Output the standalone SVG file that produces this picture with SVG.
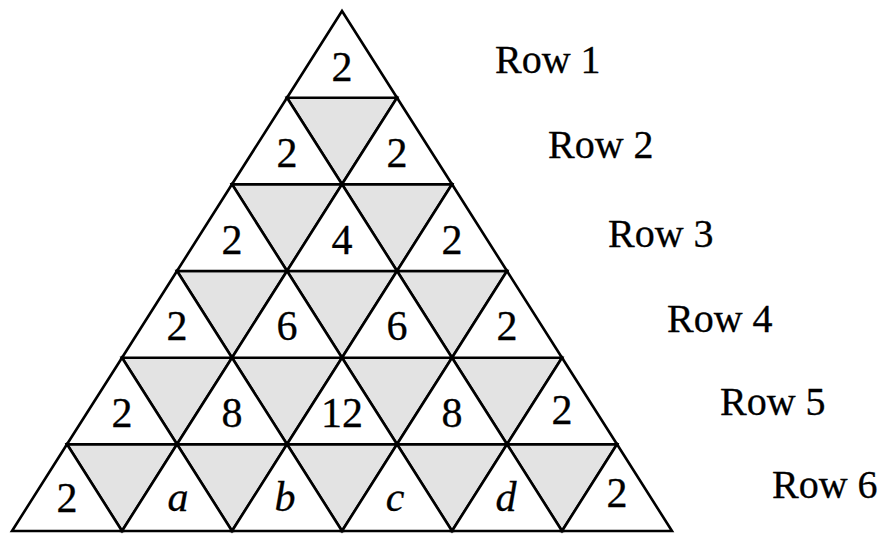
<svg xmlns="http://www.w3.org/2000/svg" width="891" height="534" viewBox="0 0 891 534">
<style>
.up{fill:#fff;stroke:#000;stroke-width:2.6;stroke-linejoin:miter}
.dn{fill:#e3e3e3;stroke:#000;stroke-width:2.6;stroke-linejoin:miter}
.n{font-size:42px;text-anchor:middle;fill:#000;stroke:#000;stroke-width:0.3}
.i{font-style:italic}
.lbl{font-size:40px;fill:#000;stroke:#000;stroke-width:0.3}
</style>
<rect width="891" height="534" fill="#fff"/>
<g id="shaded">
<polygon class="dn" points="287,97.7 397,97.7 342,184.3"/>
<polygon class="dn" points="232,184.3 342,184.3 287,271"/>
<polygon class="dn" points="342,184.3 452,184.3 397,271"/>
<polygon class="dn" points="177,271 287,271 232,357.7"/>
<polygon class="dn" points="287,271 397,271 342,357.7"/>
<polygon class="dn" points="397,271 507,271 452,357.7"/>
<polygon class="dn" points="122,357.7 232,357.7 177,444.3"/>
<polygon class="dn" points="232,357.7 342,357.7 287,444.3"/>
<polygon class="dn" points="342,357.7 452,357.7 397,444.3"/>
<polygon class="dn" points="452,357.7 562,357.7 507,444.3"/>
<polygon class="dn" points="67,444.3 177,444.3 122,531"/>
<polygon class="dn" points="177,444.3 287,444.3 232,531"/>
<polygon class="dn" points="287,444.3 397,444.3 342,531"/>
<polygon class="dn" points="397,444.3 507,444.3 452,531"/>
<polygon class="dn" points="507,444.3 617,444.3 562,531"/>
</g>
<g font-family="Liberation Serif, DejaVu Serif, serif">
<g id="r1c1"><polygon class="up" points="342,11 287,97.7 397,97.7"/><text class="n" x="342" y="81">2</text></g>
<g id="r2c1"><polygon class="up" points="287,97.7 232,184.3 342,184.3"/><text class="n" x="287" y="167">2</text></g>
<g id="r2c2"><polygon class="up" points="397,97.7 342,184.3 452,184.3"/><text class="n" x="397" y="167">2</text></g>
<g id="r3c1"><polygon class="up" points="232,184.3 177,271 287,271"/><text class="n" x="232" y="254">2</text></g>
<g id="r3c2"><polygon class="up" points="342,184.3 287,271 397,271"/><text class="n" x="342" y="254">4</text></g>
<g id="r3c3"><polygon class="up" points="452,184.3 397,271 507,271"/><text class="n" x="452" y="254">2</text></g>
<g id="r4c1"><polygon class="up" points="177,271 122,357.7 232,357.7"/><text class="n" x="177" y="340">2</text></g>
<g id="r4c2"><polygon class="up" points="287,271 232,357.7 342,357.7"/><text class="n" x="287" y="340">6</text></g>
<g id="r4c3"><polygon class="up" points="397,271 342,357.7 452,357.7"/><text class="n" x="397" y="340">6</text></g>
<g id="r4c4"><polygon class="up" points="507,271 452,357.7 562,357.7"/><text class="n" x="507" y="340">2</text></g>
<g id="r5c1"><polygon class="up" points="122,357.7 67,444.3 177,444.3"/><text class="n" x="122" y="427">2</text></g>
<g id="r5c2"><polygon class="up" points="232,357.7 177,444.3 287,444.3"/><text class="n" x="232" y="427">8</text></g>
<g id="r5c3"><polygon class="up" points="342,357.7 287,444.3 397,444.3"/><text class="n" x="342" y="427">12</text></g>
<g id="r5c4"><polygon class="up" points="452,357.7 397,444.3 507,444.3"/><text class="n" x="452" y="427">8</text></g>
<g id="r5c5"><polygon class="up" points="562,357.7 507,444.3 617,444.3"/><text class="n" x="562" y="424">2</text></g>
<g id="r6c1"><polygon class="up" points="67,444.3 12,531 122,531"/><text class="n" x="67" y="512">2</text></g>
<g id="r6c2"><polygon class="up" points="177,444.3 122,531 232,531"/><text class="n i" x="178" y="511">a</text></g>
<g id="r6c3"><polygon class="up" points="287,444.3 232,531 342,531"/><text class="n i" x="285" y="511">b</text></g>
<g id="r6c4"><polygon class="up" points="397,444.3 342,531 452,531"/><text class="n i" x="395" y="511">c</text></g>
<g id="r6c5"><polygon class="up" points="507,444.3 452,531 562,531"/><text class="n i" x="506" y="511">d</text></g>
<g id="r6c6"><polygon class="up" points="617,444.3 562,531 672,531"/><text class="n" x="617" y="507">2</text></g>
<g id="labels">
<text class="lbl" x="495" y="73">Row 1</text>
<text class="lbl" x="548" y="158">Row 2</text>
<text class="lbl" x="608" y="247">Row 3</text>
<text class="lbl" x="667" y="332">Row 4</text>
<text class="lbl" x="720" y="415">Row 5</text>
<text class="lbl" x="772" y="498">Row 6</text>
</g>
</g>
</svg>
